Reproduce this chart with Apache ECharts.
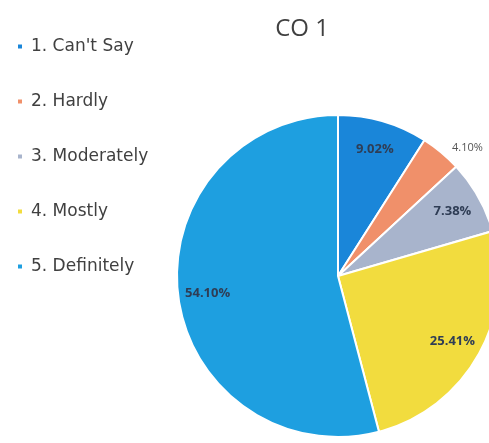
<!DOCTYPE html>
<html><head><meta charset="utf-8">
<script src="https://cdn.jsdelivr.net/npm/echarts@6/dist/echarts.min.js"></script>
<style>html,body{margin:0;padding:0;background:#fff}#c{width:489px;height:443px}</style>
</head><body><div id="c"></div>
<script>
const categories = ["1. Can't Say", "2. Hardly", "3. Moderately", "4. Mostly", "5. Definitely"];
const values = [9.02, 4.10, 7.38, 25.41, 54.10];
const labels = ["9.02%", "4.10%", "7.38%", "25.41%", "54.10%"];
const colors = ["#1a86d9", "#f0906a", "#a8b4cc", "#f2dc3e", "#1e9fe0"];
const titleText = "CO 1";

const chart = echarts.init(document.getElementById('c'));
const font = "'Open Sans', sans-serif";
const center = [338, 276];
chart.setOption({
  animation: false,
  title: { text: titleText, left: 297, top: 12, textAlign: 'center',
    textStyle: { fontFamily: font, fontSize: 24, fontWeight: 'normal', color: '#404040' } },
  legend: {
    orient: 'vertical', left: 11, top: 33, itemGap: 38,
    icon: 'rect', itemWidth: 6, itemHeight: 6,
    data: categories.map((n, i) => ({ name: n, itemStyle: { color: colors[i] } })),
    textStyle: { fontFamily: "'DejaVu Sans', sans-serif", fontSize: 17, color: '#404040',
      padding: [0, 0, 0, 3] }
  },
  series: [
    {
      type: 'pie', center: center, radius: 161, startAngle: 90, clockwise: true,
      itemStyle: { borderColor: '#fff', borderWidth: 2 },
      label: { show: false },
      labelLine: { show: false },
      data: categories.map((n, i) => {
        const d = { name: n, value: values[i], itemStyle: { color: colors[i] } };
        if (i === 1) {
          d.label = { show: true, position: 'outside', formatter: labels[i], overflow: 'none',
            fontFamily: font, fontSize: 11, color: '#555' };
          d.labelLine = { show: false, length: 6, length2: 2 };
        }
        return d;
      })
    },
    {
      type: 'pie', center: center, radius: [96, 161], startAngle: 90, clockwise: true,
      silent: true,
      itemStyle: { color: 'rgba(0,0,0,0)', borderWidth: 0 },
      label: { show: true, position: 'inside', fontFamily: font, fontSize: 13,
        fontWeight: 'bold', color: '#2f3d55' },
      labelLine: { show: false },
      data: categories.map((n, i) => ({
        name: n, value: values[i],
        label: i === 1 ? { show: false } : { show: true, formatter: labels[i] }
      }))
    }
  ]
});
</script></body></html>
